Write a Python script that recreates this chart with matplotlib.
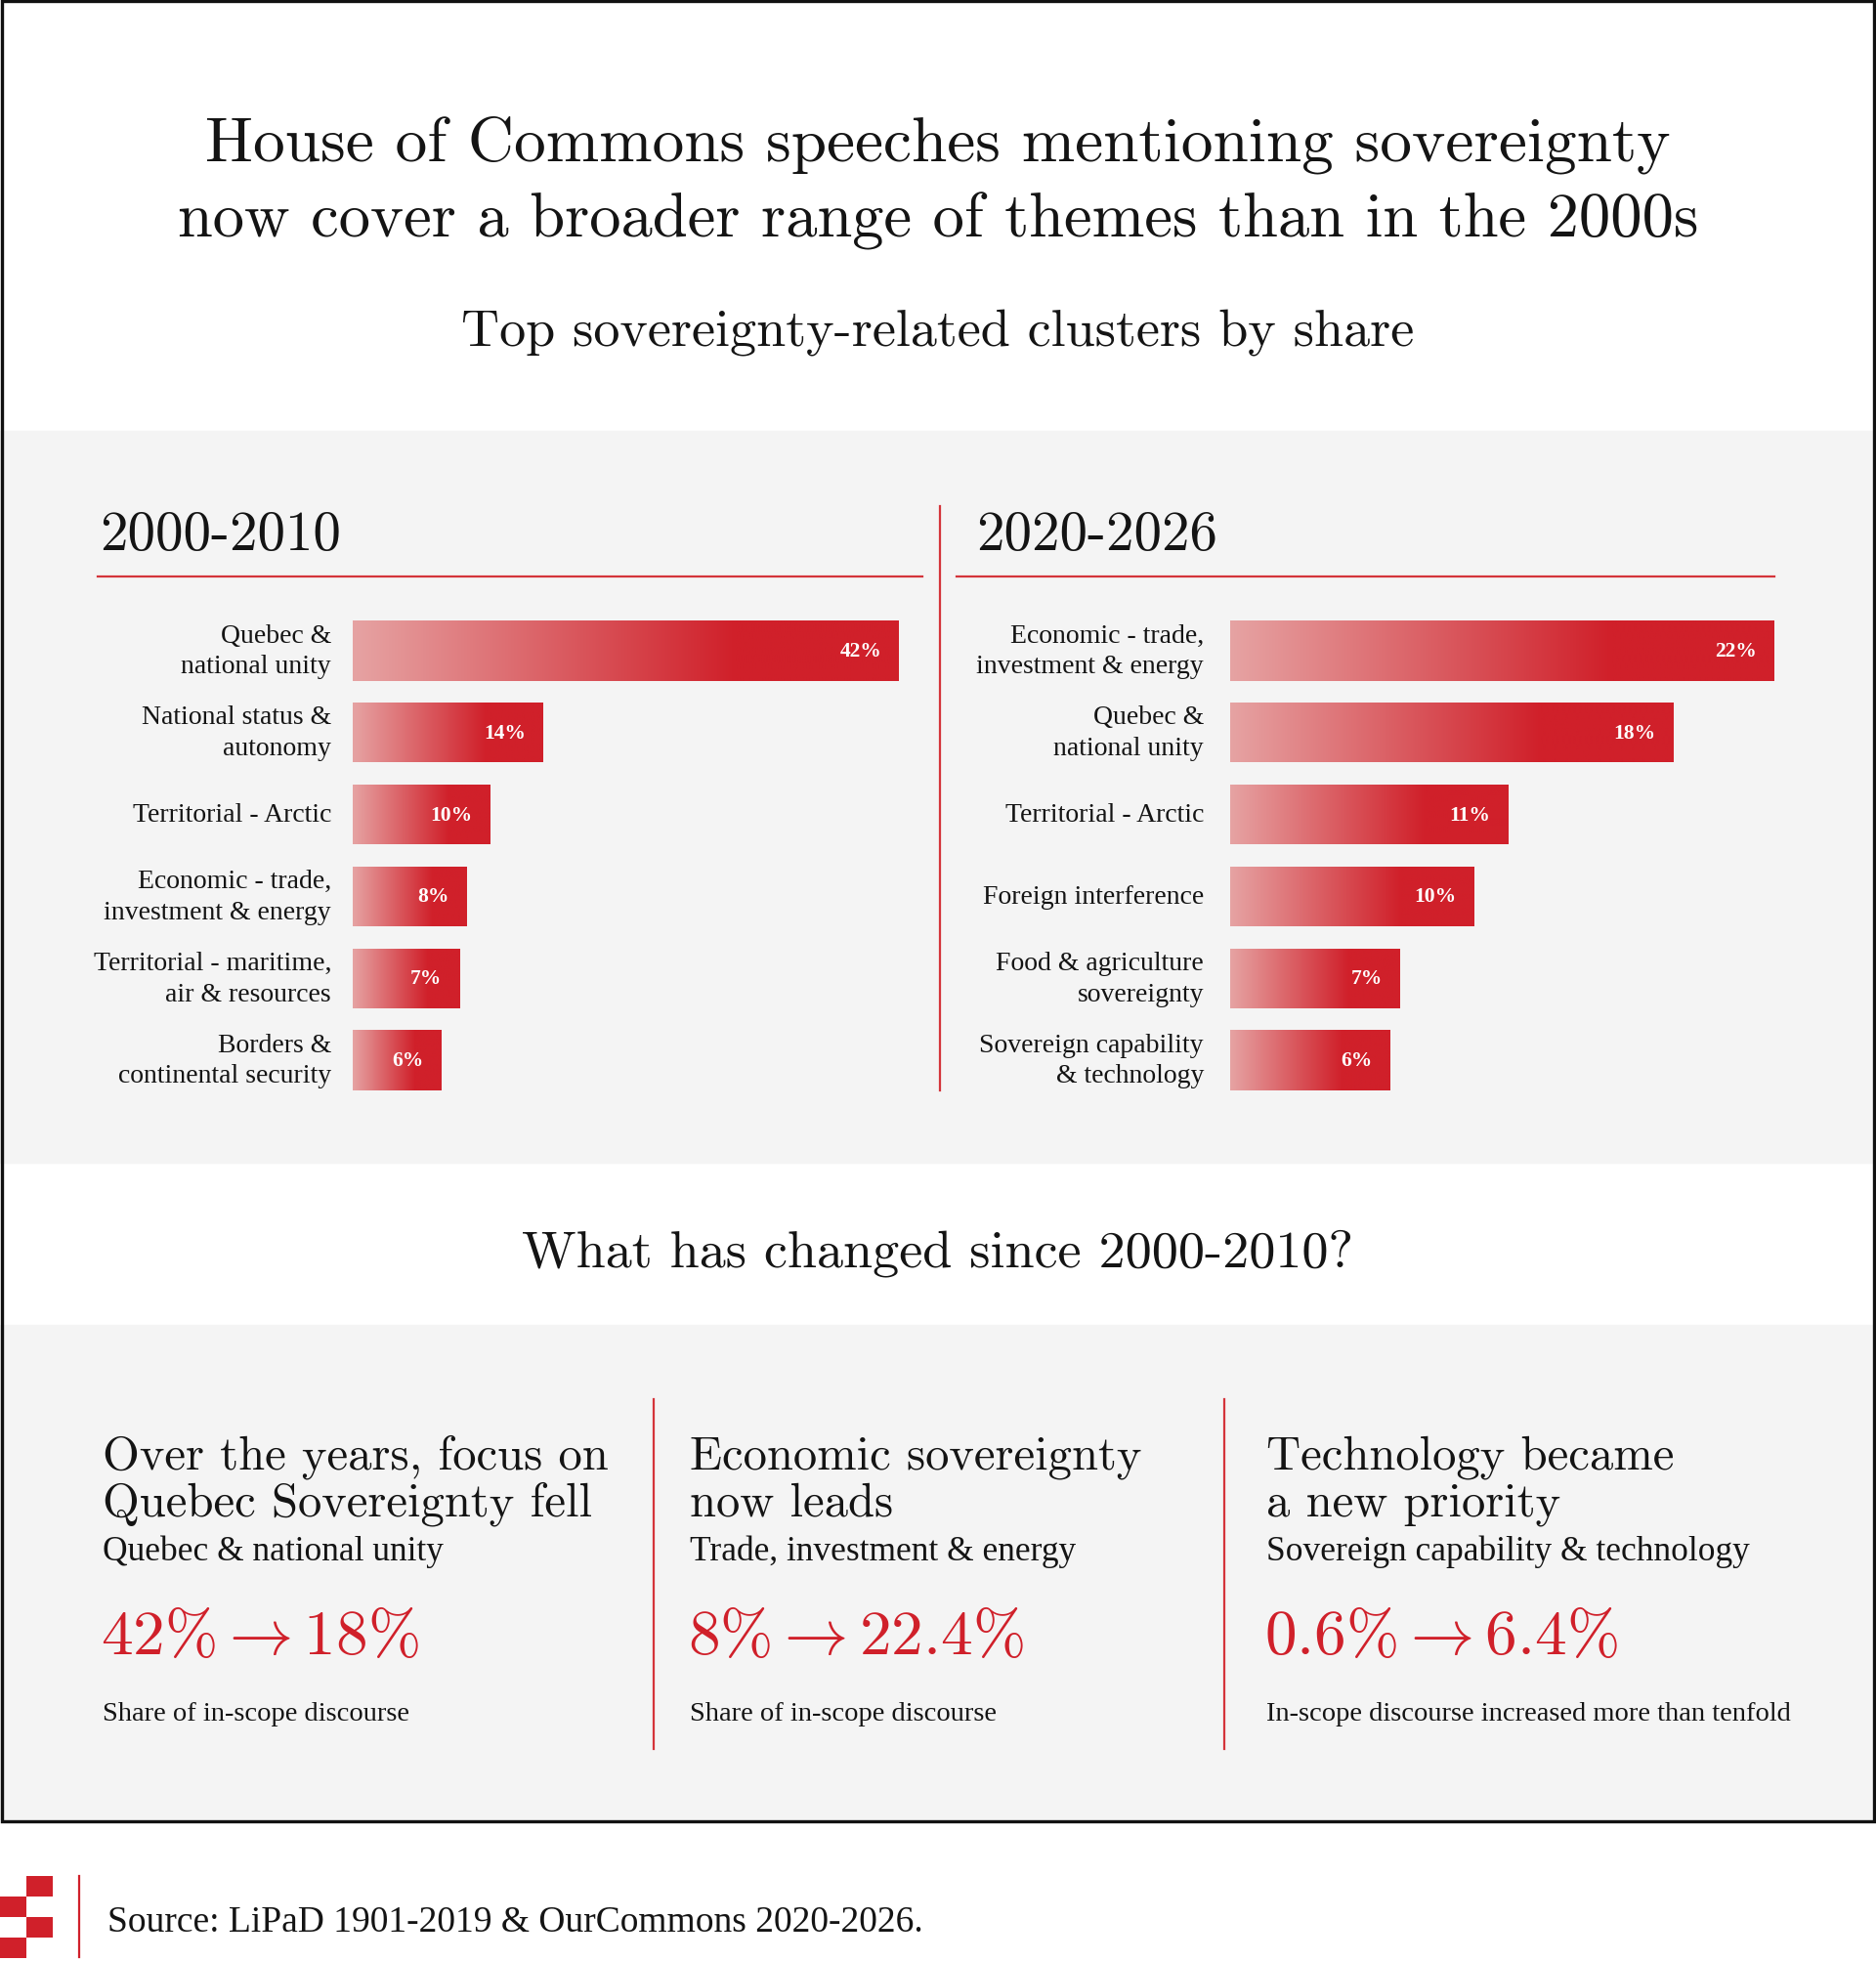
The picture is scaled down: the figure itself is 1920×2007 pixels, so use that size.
import numpy as np
import matplotlib.pyplot as plt
from matplotlib.colors import LinearSegmentedColormap
from matplotlib.patches import Rectangle

plt.rcParams['mathtext.fontset'] = 'cm'

W, H = 1920, 2008
RED = '#d0202a'
PANEL = '#f4f4f4'
INK = '#141414'
CM = ['cmr10', 'DejaVu Serif']
TIMES = 'Liberation Serif'

# data
left_title = '2000-2010'
left_labels = ['Quebec &\nnational unity', 'National status &\nautonomy', 'Territorial - Arctic',
               'Economic - trade,\ninvestment & energy', 'Territorial - maritime,\nair & resources',
               'Borders &\ncontinental security']
left_values = [42, 14, 9.8, 8, 7.4, 6]

right_title = '2020-2026'
right_labels = ['Economic - trade,\ninvestment & energy', 'Quebec &\nnational unity', 'Territorial - Arctic',
                'Foreign interference', 'Food & agriculture\nsovereignty',
                'Sovereign capability\n& technology']
right_values = [22.4, 18.2, 11.3, 9.9, 6.8, 6.4]

change_heads = [['Over the years, focus on', 'Quebec Sovereignty fell'],
                ['Economic sovereignty', 'now leads'],
                ['Technology became', 'a new priority']]
change_topics = ['Quebec & national unity', 'Trade, investment & energy', 'Sovereign capability & technology']
change_before = [42, 8, 0.6]
change_after = [18, 22.4, 6.4]
change_notes = ['Share of in-scope discourse', 'Share of in-scope discourse',
                'In-scope discourse increased more than tenfold']

fig = plt.figure(figsize=(19.2, 20.08), dpi=100)
fig.patch.set_facecolor('white')
bg = fig.add_axes([0, 0, 1, 1])
bg.set_xlim(0, W)
bg.set_ylim(H, 0)
bg.axis('off')

# panels and frame
bg.add_patch(Rectangle((0, 442), W, 749, color=PANEL, zorder=0))
bg.add_patch(Rectangle((0, 1357), W, 506, color=PANEL, zorder=0))
bg.add_patch(Rectangle((1.5, 1.5), W - 3.5, 1863, fill=False, ec='#111111', lw=2.4, zorder=5))

# titles
bg.text(W / 2, 165, 'House of Commons speeches mentioning sovereignty', family=CM, fontsize=47,
        ha='center', va='baseline', color=INK)
bg.text(W / 2, 242, 'now cover a broader range of themes than in the 2000s', family=CM, fontsize=46.5,
        ha='center', va='baseline', color=INK)
bg.text(W / 2, 353, 'Top sovereignty-related clusters by share', family=CM, fontsize=39,
        ha='center', va='baseline', color=INK)
bg.text(W / 2, 1297, 'What has changed since 2000-2010?', family=CM, fontsize=39,
        ha='center', va='baseline', color=INK)

cmap = LinearSegmentedColormap.from_list('fade', [(0, '#e6a3a3'), (0.7, RED), (1, RED)])
grad = np.linspace(0, 1, 256).reshape(1, -1)


def bar_panel(x0, x1, xmin, scale, title, title_x, line_x, labels, values, label_gap):
    bg.text(title_x, 563, title, family=CM, fontsize=41, ha='left', va='baseline', color=INK)
    bg.plot(line_x, [591, 591], color='#d4343a', lw=1.6)
    xmax = xmin + (x1 - x0) / scale
    ax = fig.add_axes([x0 / W, 1 - 1128 / H, (x1 - x0) / W, 503 / H])
    ax.patch.set_visible(False)
    y = np.arange(len(values))
    bars = ax.barh(y, np.array(values) - xmin, left=xmin, height=0.73, color=RED, zorder=1)
    for b in bars:
        im = ax.imshow(grad, cmap=cmap, aspect='auto', zorder=2, interpolation='bilinear',
                       extent=(b.get_x(), b.get_x() + b.get_width(), b.get_y(), b.get_y() + b.get_height()))
        im.set_clip_path(b)
    for i, (lab, v) in enumerate(zip(labels, values)):
        ax.annotate(lab, (xmin, i), xytext=(-label_gap, 0), textcoords='offset pixels',
                    ha='right', va='center', family=TIMES, fontsize=20, color=INK, linespacing=1.35)
        ax.annotate(f'{v:.0f}%', (v, i), xytext=(-18, 0), textcoords='offset pixels', zorder=3,
                    ha='right', va='center', family=TIMES, fontsize=15.5, fontweight='bold', color='white')
    ax.set_xlim(xmin, xmax)
    ax.set_ylim(len(values) - 0.5, -0.5)
    ax.axis('off')


bar_panel(361, 944, -1.0, 13.0, left_title, 102, [100, 944], left_labels, left_values, 22)
bar_panel(1259, 1816, -0.26, 24.58, right_title, 999, [979, 1816], right_labels, right_values, 27)
bg.plot([962, 962], [519, 1117], color='#d4343a', lw=1.6)

# what has changed
col_x = [105, 706, 1296]
for k in range(3):
    x = col_x[k]
    bg.text(x, 1504, change_heads[k][0], family=CM, fontsize=35, va='baseline', color=INK)
    bg.text(x, 1552, change_heads[k][1], family=CM, fontsize=35, va='baseline', color=INK)
    bg.text(x, 1597, change_topics[k], family=TIMES, fontsize=25.5, va='baseline', color=INK)
    bg.text(x - 2, 1693, f'{change_before[k]:g}%$\\rightarrow${change_after[k]:g}%', family=CM,
            fontsize=47, va='baseline', color=RED)
    bg.text(x, 1761, change_notes[k], family=TIMES, fontsize=20.5, va='baseline', color=INK)
for xd in [669, 1253]:
    bg.plot([xd, xd], [1433, 1791], color='#d4343a', lw=1.6)

# footer
for (lx, ly) in [(27, 1921), (0, 1942), (27, 1963), (0, 1984)]:
    bg.add_patch(Rectangle((lx, ly), 27, 21, color=RED, lw=0))
bg.plot([81, 81], [1921, 2004], color=RED, lw=1.6)
bg.text(110, 1977, 'Source: LiPaD 1901-2019 & OurCommons 2020-2026.', family=TIMES, fontsize=27,
        va='baseline', color=INK)

fig.savefig('out.png', dpi=100, facecolor='white')
